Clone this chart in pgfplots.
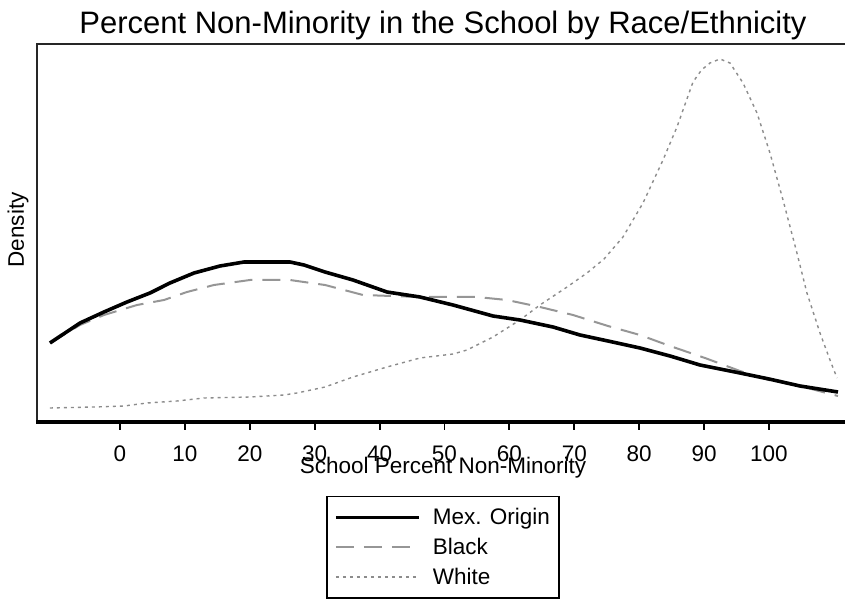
\documentclass[border=0pt]{standalone}
\usepackage{pgfplots}
\pgfplotsset{compat=1.18}
\usepackage{fontspec}
\setmainfont{Liberation Sans}
\definecolor{dashgray}{RGB}{150,150,150}
\definecolor{dotgray}{RGB}{140,140,140}
\begin{document}
\begin{tikzpicture}
\useasboundingbox (-37pt,-179pt) rectangle (808pt,422pt);
\begin{axis}[
  at={(0pt,0pt)}, anchor=south west,
  scale only axis, width=812pt, height=378pt,
  xmin=-12.79, xmax=112.33, ymin=0, ymax=378,
  axis line style={draw=none},
  xtick={0,10,...,100}, ytick=\empty,
  xtick pos=lower, tick align=outside,
  major tick length=8pt,
  every tick/.style={black, line width=1.8pt},
  /pgf/number format/assume math mode=true,
  ticklabel style={font=\fontsize{22.5}{26}\selectfont},
  xticklabel style={anchor=base, yshift=-32pt},
  title={Percent Non-Minority in the School by Race/Ethnicity},
  title style={at={(0.5,1)}, anchor=base, yshift=4pt, font=\fontsize{31}{36}\selectfont},
  xlabel={School Percent Non-Minority},
  xlabel style={at={(axis description cs:0.5,0)}, anchor=base, yshift=-52pt, font=\fontsize{22.5}{26}\selectfont},
  ylabel={Density},
  ylabel style={at={(axis description cs:-0.0234,0.508)}, anchor=center, font=\fontsize{22.5}{26}\selectfont},
  legend style={at={(axis description cs:0.5,-0.1958)}, anchor=north, draw=black, line width=1.2pt,
    font=\fontsize{22.5}{26}\selectfont, inner xsep=7pt, inner ysep=10pt, row sep=8pt},
  legend cell align=left,
  legend image code/.code={\draw[#1] (0pt,0pt) -- (83pt,0pt); \path[draw=none] (0pt,0pt) -- (95pt,0pt);},
  reverse legend,
]
\addplot[dotgray, line width=1.4pt, dash pattern=on 3pt off 4pt] coordinates {
(-10.79,14) (-4.01,15) (0.62,16) (4.16,19) (8.78,21) (12.94,24) (20.03,25) (25.27,27) (27.27,29)
(31.59,35) (35.90,45) (41.14,55) (46.22,64) (51.31,68) (53.47,72) (57.47,85) (61.63,102)
(64.71,117) (68.88,135) (71.96,149) (74.58,163) (77.50,185) (80.59,219) (83.67,262)
(85.82,295) (88.29,340) (89.6,352) (90.91,359) (92.45,363) (93.99,359) (96.0,339) (98.15,309)
(100.15,269) (102.16,222) (104.31,169) (105.85,129) (107.86,89) (109.40,62) (110.48,44)
};
\addlegendentry{White}
\addplot[dashgray, line width=2pt, dash pattern=on 18pt off 10pt] coordinates {
(-10.79,79) (-6.16,97) (-2.47,107) (2.62,117) (6.78,122) (10.32,130) (14.48,137) (20.03,142)
(26.19,142) (31.59,137) (37.44,127) (46.22,125) (55.01,125) (59.63,122) (64.71,115)
(69.80,107) (75.19,96) (80.12,87) (84.75,76) (90.14,64) (95.53,51) (100.0,42) (104.78,36) (110.63,26)
};
\addlegendentry{Black}
\addplot[black, line width=3.6pt] coordinates {
(-10.79,79) (-6.16,99) (-2.47,110) (1.08,120) (4.62,129) (7.70,139) (11.40,149) (15.41,156)
(19.11,160) (26.19,160) (28.35,157) (31.59,150) (35.90,142) (41.14,130) (46.22,125)
(51.31,117) (57.47,106) (61.63,102) (66.72,95) (70.88,87) (75.19,81) (80.12,74) (84.75,66)
(89.37,57) (95.53,49) (100.0,43) (104.78,36) (110.63,30)
};
\addlegendentry{Mex. Origin}
\end{axis}
\draw[line width=1.8pt, black!85] (0,-1pt) -- (0,378pt) -- (812pt,378pt);
\draw[line width=3.5pt] (-0.9pt,0) -- (812pt,0);
\end{tikzpicture}
\end{document}
